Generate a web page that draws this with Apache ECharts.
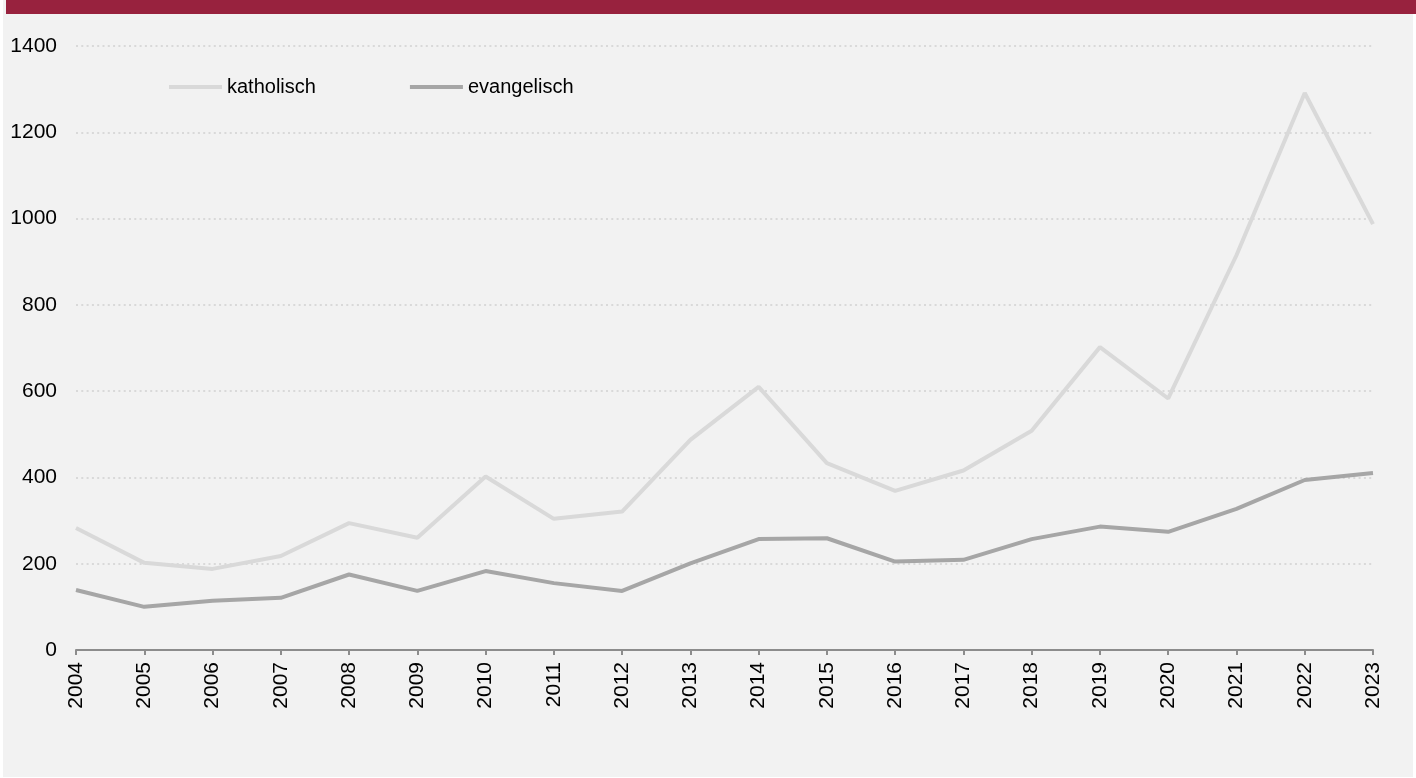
<!DOCTYPE html>
<html>
<head>
<meta charset="utf-8">
<script src="https://cdn.jsdelivr.net/npm/echarts@6/dist/echarts.min.js"></script>
<style>
html,body{margin:0;padding:0;background:#ffffff;}
#chart{width:1416px;height:778px;}
</style>
</head>
<body>
<div id="chart"></div>
<script>
const years = ['2004','2005','2006','2007','2008','2009','2010','2011','2012','2013','2014','2015','2016','2017','2018','2019','2020','2021','2022','2023'];
const katholisch = [283, 202, 188, 218, 294, 260, 402, 304, 321, 487, 610, 433, 369, 416, 508, 702, 583, 915, 1291, 987];
const evangelisch = [139, 100, 114, 121, 175, 137, 183, 155, 137, 201, 257, 259, 205, 209, 257, 286, 274, 327, 394, 410];
const yTicks = {min: 0, max: 1400, interval: 200};

const chart = echarts.init(document.getElementById('chart'), null, {renderer: 'canvas'});
const font = 'Liberation Sans, Arial, sans-serif';
chart.setOption({
  backgroundColor: '#ffffff',
  animation: false,
  graphic: [
    {type: 'rect', z: -10, silent: true, shape: {x: 3, y: 0, width: 1410, height: 777}, style: {fill: '#f2f2f2'}},
    {type: 'rect', z: 10, silent: true, shape: {x: 6, y: 0, width: 1410, height: 14}, style: {fill: '#98223e'}}
  ],
  legend: {
    left: 164,
    top: 72,
    itemWidth: 53,
    itemHeight: 4,
    itemGap: 94,
    icon: 'rect',
    textStyle: {fontFamily: font, fontSize: 20, color: '#000'},
    data: ['katholisch', 'evangelisch']
  },
  grid: {left: 76, right: 43, top: 46, bottom: 128, containLabel: false},
  xAxis: {
    type: 'category',
    data: years,
    boundaryGap: false,
    axisLine: {lineStyle: {color: '#8c8c8c', width: 2}},
    axisTick: {show: true, length: 5, lineStyle: {color: '#8c8c8c', width: 2}, alignWithLabel: true},
    axisLabel: {rotate: 90, fontFamily: font, fontSize: 21, color: '#000', margin: 12, interval: 0}
  },
  yAxis: {
    type: 'value',
    min: yTicks.min, max: yTicks.max, interval: yTicks.interval,
    axisLine: {show: false},
    axisTick: {show: false},
    axisLabel: {fontFamily: font, fontSize: 21, color: '#000', margin: 19, formatter: function (v) { return String(v); }},
    splitLine: {show: true, lineStyle: {color: '#d9d9d9', width: 2, type: [2, 3.3]}}
  },
  series: [
    {name: 'katholisch', type: 'line', data: katholisch, symbol: 'none', color: '#d9d9d9', lineStyle: {width: 4, color: '#d9d9d9'}, z: 3},
    {name: 'evangelisch', type: 'line', data: evangelisch, symbol: 'none', color: '#a6a6a6', lineStyle: {width: 4, color: '#a6a6a6'}, z: 4}
  ]
});
</script>
</body>
</html>
